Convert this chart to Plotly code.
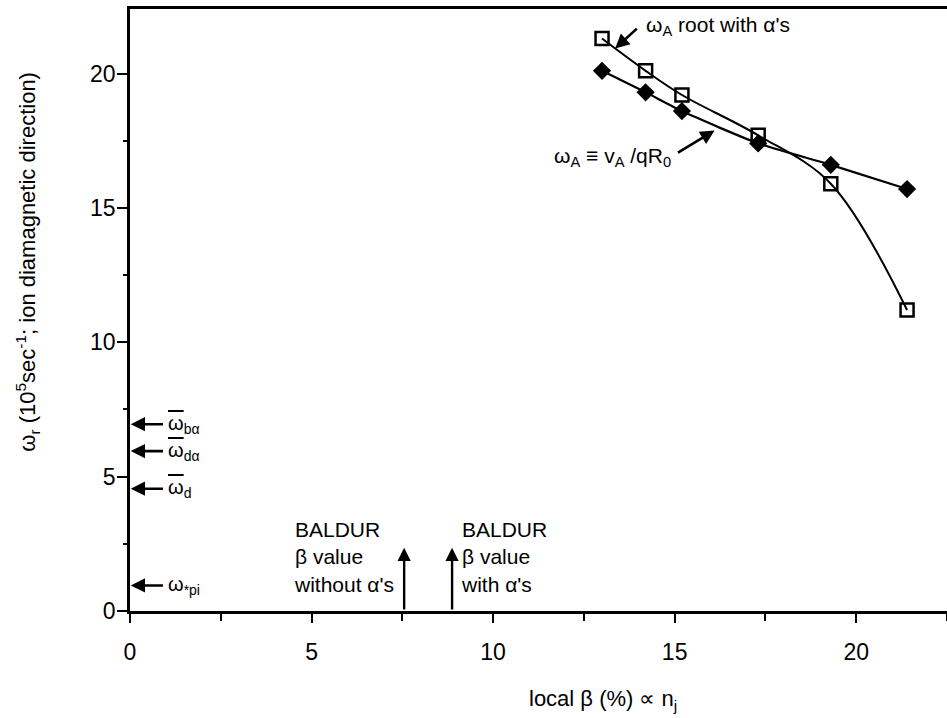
import plotly.graph_objects as go

# ---- data ----
beta_local = [13.0, 14.2, 15.2, 17.3, 19.3, 21.4]
omega_A_root = [21.3, 20.1, 19.2, 17.7, 15.9, 11.2]      # open squares
omega_A_est = [20.1, 19.3, 18.6, 17.4, 16.6, 15.7]       # filled diamonds

OV = '<span style="text-decoration:overline">ω</span>'
freq_labels = [OV + "<sub>bα</sub>", OV + "<sub>dα</sub>", OV + "<sub>d</sub>", "ω<sub>*pi</sub>"]
freq_values = [6.95, 5.95, 4.55, 0.95]

baldur_beta = [7.55, 8.87]
baldur_labels = ["BALDUR<br>β value<br>without α's", "BALDUR<br>β value<br>with α's"]

x_ticks = [0, 5, 10, 15, 20]
y_ticks = [0, 5, 10, 15, 20]

FONT = "Liberation Sans, Arial, sans-serif"
FS = 21

fig = go.Figure()
fig.add_trace(go.Scatter(
    x=beta_local, y=omega_A_root, mode="lines+markers",
    line=dict(color="black", width=2, shape="spline", smoothing=1.0),
    marker=dict(symbol="square-open", size=13, color="black", line=dict(width=2.5)),
    showlegend=False))
fig.add_trace(go.Scatter(
    x=beta_local, y=omega_A_est, mode="lines+markers",
    line=dict(color="black", width=2.2, shape="spline", smoothing=0.6),
    marker=dict(symbol="diamond", size=14, color="black"),
    showlegend=False))

ann = []
# left-edge frequency markers
for lab, v in zip(freq_labels, freq_values):
    ann.append(dict(x=0.02, y=v, ax=0.95, ay=v, xref="x", yref="y", axref="x", ayref="y",
                    text="", showarrow=True, arrowhead=2, arrowsize=1.1, arrowwidth=2.6,
                    arrowcolor="black"))
    ann.append(dict(x=1.0, y=v, xref="x", yref="y", text=lab, showarrow=False,
                    xanchor="left", yanchor="middle", font=dict(family=FONT, size=20, color="black")))

# BALDUR beta arrows
for bx in baldur_beta:
    ann.append(dict(x=bx, y=2.35, ax=bx, ay=0, xref="x", yref="y", axref="x", ayref="y",
                    text="", showarrow=True, arrowhead=2, arrowsize=1.1, arrowwidth=2.4,
                    arrowcolor="black"))
ann.append(dict(x=4.45, y=2.0, xref="x", yref="y", text=baldur_labels[0], showarrow=False,
                xanchor="left", yanchor="middle", align="left",
                font=dict(family=FONT, size=FS, color="black")))
ann.append(dict(x=9.05, y=2.0, xref="x", yref="y", text=baldur_labels[1], showarrow=False,
                xanchor="left", yanchor="middle", align="left",
                font=dict(family=FONT, size=FS, color="black")))

# curve labels
ann.append(dict(x=16.1, y=17.88, ax=15.05, ay=17.02, xref="x", yref="y", axref="x", ayref="y",
                text="", showarrow=True, arrowhead=2, arrowsize=1.1, arrowwidth=2.6, arrowcolor="black"))
ann.append(dict(x=14.95, y=16.9, xref="x", yref="y",
                text="ω<sub>A</sub> ≡ v<sub>A</sub> /qR<sub>0</sub>", showarrow=False,
                xanchor="right", yanchor="middle", font=dict(family=FONT, size=FS, color="black")))
ann.append(dict(x=13.36, y=20.93, ax=14.0, ay=21.72, xref="x", yref="y", axref="x", ayref="y",
                text="", showarrow=True, arrowhead=2, arrowsize=1.1, arrowwidth=2.6, arrowcolor="black"))
ann.append(dict(x=14.15, y=21.75, xref="x", yref="y",
                text="ω<sub>A</sub> root with α's", showarrow=False,
                xanchor="left", yanchor="middle", font=dict(family=FONT, size=FS, color="black")))

# axis titles
ann.append(dict(x=-0.125, y=0.58, xref="paper", yref="paper", textangle=-90,
                text="ω<sub>r</sub> (10<sup>5</sup>sec<sup>-1</sup>; ion diamagnetic direction)",
                showarrow=False, xanchor="center", yanchor="middle",
                font=dict(family=FONT, size=22, color="black")))
ann.append(dict(x=0.579, y=-0.148, xref="paper", yref="paper",
                text="local β (%) ∝ n<sub>j</sub>", showarrow=False,
                xanchor="center", yanchor="middle", font=dict(family=FONT, size=22, color="black")))

fig.update_layout(
    width=947, height=718,
    margin=dict(l=130, r=0, t=9, b=107),
    paper_bgcolor="white", plot_bgcolor="white",
    font=dict(family=FONT, size=FS, color="black"),
    annotations=ann,
    xaxis=dict(range=[0, 22.5], tickvals=x_ticks, ticks="outside", ticklen=9, tickwidth=2,
               tickcolor="black", showline=True, linewidth=2.5, linecolor="black", mirror=True,
               showgrid=False, zeroline=False, ticklabelstandoff=10,
               tickfont=dict(family=FONT, size=23, color="black"),
               minor=dict(dtick=2.5, ticks="outside", ticklen=7, tickwidth=1.5, tickcolor="black")),
    yaxis=dict(range=[0, 22.4], tickvals=y_ticks, ticks="outside", ticklen=10, tickwidth=2,
               tickcolor="black", showline=True, linewidth=2.5, linecolor="black",
               showgrid=False, zeroline=False, ticklabelstandoff=-3,
               tickfont=dict(family=FONT, size=23, color="black"),
               minor=dict(dtick=2.5, ticks="outside", ticklen=4, tickwidth=1.5, tickcolor="black")),
)

fig.write_html("out.html")
